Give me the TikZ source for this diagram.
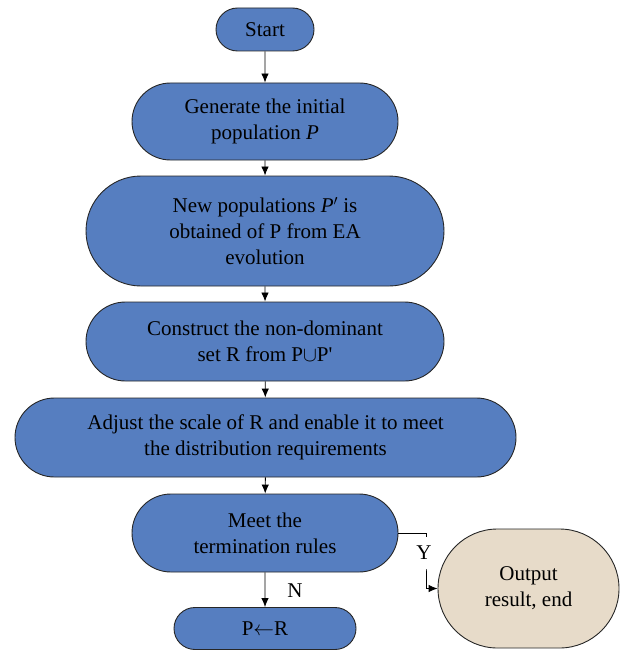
\documentclass[tikz,border=0pt]{standalone}
\usepackage{fontspec}
\setmainfont{Liberation Serif}
\usetikzlibrary{shapes.misc,arrows.meta}
\definecolor{boxblue}{RGB}{86,126,192}
\definecolor{boxsand}{RGB}{231,219,201}
\begin{document}
\begin{tikzpicture}[x=1pt,y=-1pt]
\tikzset{t/.style={rounded rectangle,draw=black!85,line width=0.9pt,fill=boxblue,inner sep=0pt,align=center,font=\fontsize{21}{26}\selectfont},
arr/.style={-{Latex[length=9pt,width=7.5pt]},line width=0.9pt}}
\useasboundingbox (0,0) rectangle (627,650);

\path (265,29.5) node[t,minimum width=98,minimum height=43] (start) {Start};
\path (265,121.5) node[t,minimum width=266,minimum height=77] (gen) {Generate the initial\\population \textit{P}};
\path (265,231) node[t,minimum width=358,minimum height=110] (newp) {New populations \textit{P}$'$ is\\obtained of P from EA\\evolution};
\path (265,341.5) node[t,minimum width=358,minimum height=79] (cons) {Construct the non-dominant\\set R from P$\cup$P\textquotesingle};
\path (265.5,437.5) node[t,minimum width=501,minimum height=79] (adj) {Adjust the scale of R and enable it to meet\\the distribution requirements};
\path (265,533) node[t,minimum width=266,minimum height=78] (meet) {Meet the\\termination rules};
\path (265,628.5) node[t,minimum width=182,minimum height=42] (upd) {P$\leftarrow$R};
\path (528.5,588.5) node[t,fill=boxsand,minimum width=181,minimum height=119] (out) {Output\\result, end};

\draw[arr] (start) -- (gen);
\draw[arr] (gen) -- (newp);
\draw[arr] (newp) -- (cons);
\draw[arr] (cons) -- (adj);
\draw[arr] (adj) -- (meet);
\draw[arr] (meet) -- (upd);
\coordinate (ybend) at (426,553);
\draw[arr] (meet.east) -| (ybend) |- (out.west);
\path (424,553) node[fill=white,inner sep=1pt,minimum height=32,font=\fontsize{21}{26}\selectfont] (ylab) {Y};
\path (295,591) node[font=\fontsize{21}{26}\selectfont] (nlab) {N};
\end{tikzpicture}
\end{document}
